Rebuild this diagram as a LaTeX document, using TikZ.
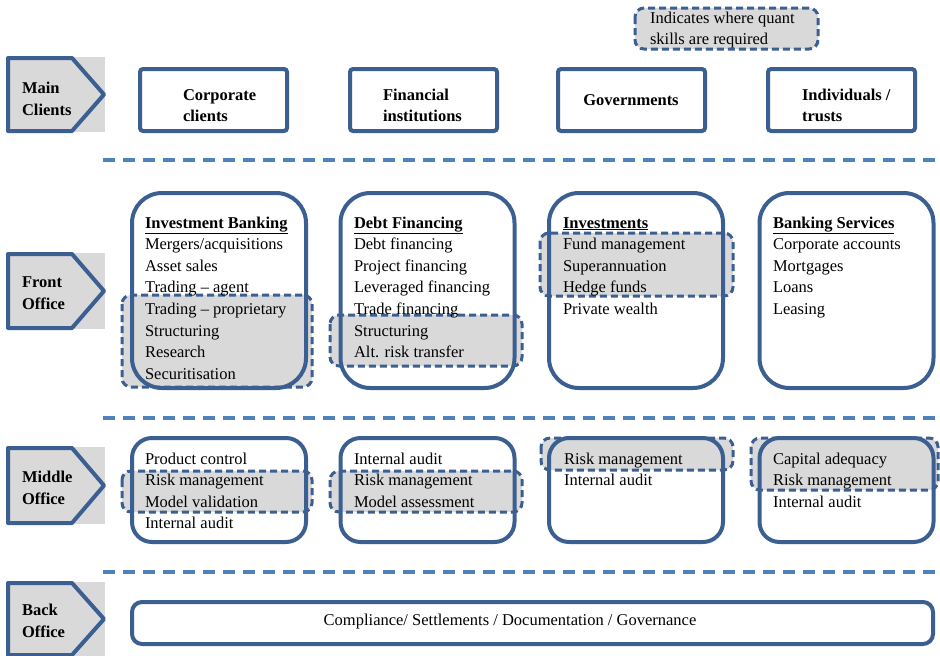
\documentclass[tikz,border=0pt]{standalone}
\usepackage{fontspec}
\setmainfont{Liberation Serif}
\definecolor{bord}{RGB}{60,95,145}
\definecolor{sepc}{RGB}{79,129,189}
\definecolor{hl}{RGB}{217,217,217}
\newcommand\colstack[1]{\begin{tabular}[t]{@{}l@{}}#1\end{tabular}}
\begin{document}
\begin{tikzpicture}[x=1pt,y=-1pt,
  font=\fontsize{16.5}{21.6}\selectfont,
  every node/.style={inner sep=0pt,outer sep=0pt},
  clientbox/.style={draw=bord,line width=4pt,rounded corners=3pt,minimum width=147pt,minimum height=62pt},
  clienttext/.style={anchor=base west,font=\fontsize{16.5}{21.6}\selectfont\bfseries},
  frontbox/.style={draw=bord,line width=4pt,rounded corners=30pt,minimum width=174pt,minimum height=195pt},
  midbox/.style={draw=bord,line width=4pt,rounded corners=20pt,minimum width=174pt,minimum height=104pt},
  backbox/.style={draw=bord,line width=4pt,rounded corners=10pt,minimum width=801pt,minimum height=42pt},
  hlfill/.style={fill=hl,rounded corners=9pt},
  hldash/.style={draw=bord,line width=3pt,dash pattern=on 7pt off 4pt,rounded corners=9pt},
  sepline/.style={draw=sepc,line width=3.5pt,dash pattern=on 12pt off 8pt},
  labshape/.style={draw=bord,fill=hl,line width=4pt,line join=round},
  labtext/.style={anchor=base west,font=\fontsize{16.5}{22}\selectfont\bfseries},
  itemtext/.style={anchor=base west}
]
\useasboundingbox (0,0) rectangle (940,656);

% ---------- side labels ----------
\foreach \t/\b in {58/131, 254/328, 448/523, 583/655}{
  \fill[hl] (6,\t-1) rectangle (105,\b+1);
  \path[labshape] (8,\t) -- (72,\t) -- (104,{(\t+\b)/2}) -- (72,\b) -- (8,\b) -- cycle;
}
\node[labtext] (lmain) at (22,93) {\colstack{Main\\Clients}};
\node[labtext] (lfront) at (22,287) {\colstack{Front\\Office}};
\node[labtext] (lmid) at (22,482) {\colstack{Middle\\Office}};
\node[labtext] (lback) at (22,615) {\colstack{Back\\Office}};

% ---------- separators ----------
\coordinate (s1a) at (103,160); \coordinate (s1b) at (940,160);
\coordinate (s2a) at (103,418); \coordinate (s2b) at (940,418);
\coordinate (s3a) at (103,572); \coordinate (s3b) at (940,572);
\draw[sepline] (s1a) -- (s1b);
\draw[sepline] (s2a) -- (s2b);
\draw[sepline] (s3a) -- (s3b);

% ---------- highlight fills ----------
\node[hlfill,minimum width=183pt,minimum height=41pt] (leg) at (726.5,28.5) {};
\node[hlfill,minimum width=190pt,minimum height=92pt] (h1) at (217,341) {};
\node[hlfill,minimum width=192pt,minimum height=51pt] (h2) at (426,340.5) {};
\node[hlfill,minimum width=193pt,minimum height=63pt] (h3) at (636.5,264.5) {};
\node[hlfill,minimum width=190pt,minimum height=41pt] (m1) at (217,491.5) {};
\node[hlfill,minimum width=192pt,minimum height=41pt] (m2) at (426,491.5) {};
\node[hlfill,minimum width=192pt,minimum height=32pt] (m3) at (637,454) {};
\node[hlfill,minimum width=187pt,minimum height=52pt] (m4) at (844.5,464) {};

% ---------- client boxes ----------
\node[clientbox] (cc) at (213.5,100) {};
\node[clientbox] (fi) at (423.5,100) {};
\node[clientbox] (gov) at (631.5,100) {};
\node[clientbox] (ind) at (841.5,100) {};
\node[clienttext] (cctext) at (183,100) {\colstack{Corporate\\clients}};
\node[clienttext] (fitext) at (383,100) {\colstack{Financial\\institutions}};
\node[clienttext,anchor=base] (govtext) at (631,105) {Governments};
\node[clienttext] (indtext) at (802,100) {\colstack{Individuals /\\trusts}};

% ---------- front office boxes ----------
\node[frontbox] (ib) at (219,290.5) {};
\node[frontbox] (df) at (427.5,290.5) {};
\node[frontbox] (inv) at (636,290.5) {};
\node[frontbox] (bs) at (846.5,290.5) {};

% ---------- middle office boxes ----------
\node[midbox] (mb1) at (219,490) {};
\node[midbox] (mb2) at (427.5,490) {};
\node[midbox] (mb3) at (636,490) {};
\node[midbox] (mb4) at (846.5,490) {};

% ---------- back office ----------
\node[backbox] (bo) at (532.5,623) {};
\node (botext) at (510,622) {Compliance/ Settlements / Documentation / Governance};

% ---------- dashed highlight borders ----------
\foreach \n in {leg,h1,h2,h3,m1,m2,m3,m4}{
  \draw[hldash] (\n.north west) rectangle (\n.south east);
}

% ---------- texts ----------
\node[itemtext] (legtext) at (650,23) {\colstack{Indicates where quant\\skills are required}};

\node[itemtext] (ibtext) at (145,228) {\colstack{\underline{\textbf{Investment Banking}}\\Mergers/acquisitions\\Asset sales\\Trading -- agent\\Trading -- proprietary\\Structuring\\Research\\Securitisation}};
\node[itemtext] (dftext) at (354,228) {\colstack{\underline{\textbf{Debt Financing}}\\Debt financing\\Project financing\\Leveraged financing\\Trade financing\\Structuring\\Alt. risk transfer}};
\node[itemtext] (invtext) at (563,228) {\colstack{\underline{\textbf{Investments}}\\Fund management\\Superannuation\\Hedge funds\\Private wealth}};
\node[itemtext] (bstext) at (773,228) {\colstack{\underline{\textbf{Banking Services}}\\Corporate accounts\\Mortgages\\Loans\\Leasing}};

\node[itemtext] (m1text) at (145,464) {\colstack{Product control\\Risk management\\Model validation\\Internal audit}};
\node[itemtext] (m2text) at (354,464) {\colstack{Internal audit\\Risk management\\Model assessment}};
\node[itemtext] (m3text) at (564,464) {\colstack{Risk management\\Internal audit}};
\node[itemtext] (m4text) at (773,464) {\colstack{Capital adequacy\\Risk management\\Internal audit}};
\end{tikzpicture}
\end{document}
